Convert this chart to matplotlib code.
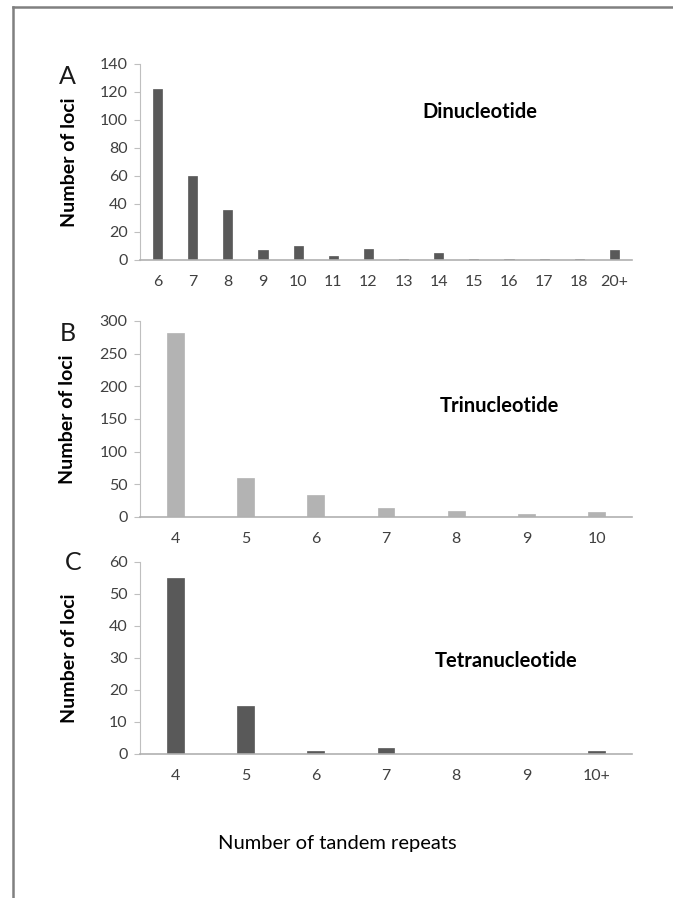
import matplotlib
matplotlib.use("Agg")
import matplotlib.pyplot as plt
from matplotlib.lines import Line2D

# data
di_labels = ["6", "7", "8", "9", "10", "11", "12", "13", "14", "15", "16", "17", "18", "20+"]
di_counts = [122, 60, 36, 7, 10, 3, 8, 1, 5, 1, 1, 1, 1, 7]

tri_labels = ["4", "5", "6", "7", "8", "9", "10"]
tri_counts = [282, 60, 33, 13, 9, 5, 7]

tetra_labels = ["4", "5", "6", "7", "8", "9", "10+"]
tetra_counts = [55, 15, 1, 2, 0, 0, 1]

plt.rcParams["font.family"] = ["Lato", "DejaVu Sans"]

fig = plt.figure(figsize=(6.73, 8.98), dpi=100)

dark = "#595959"
light = "#b3b3b3"
tick_col = "#404040"


def panel(rect, labels, counts, color, width, ymax, ystep, name, name_xy, letter, letter_xy, ylab_x):
    ax = fig.add_axes(rect)
    x = range(len(labels))
    ax.bar(x, counts, width=width, color=color, edgecolor=color, linewidth=0.5)
    ax.set_xlim(-0.5, len(labels) - 0.5)
    ax.set_ylim(0, ymax)
    ax.set_yticks(range(0, ymax + 1, ystep))
    ax.set_xticks(list(x))
    ax.set_xticklabels(labels)
    ax.tick_params(axis="x", length=0, pad=11, labelsize=11.5, labelcolor=tick_col)
    ax.tick_params(axis="y", length=4, width=0.8, color="#bfbfbf", pad=5,
                   labelsize=11.5, labelcolor=tick_col)
    for s in ["top", "right"]:
        ax.spines[s].set_visible(False)
    ax.spines["left"].set_color("#bfbfbf")
    ax.spines["bottom"].set_color("#b0b0b0")
    ax.spines["left"].set_linewidth(0.8)
    ax.spines["bottom"].set_linewidth(1.2)
    ax.set_ylabel("Number of loci", fontsize=14, fontweight="bold", color="black")
    ax.yaxis.set_label_coords(ylab_x, 0.5)
    ax.text(name_xy[0], name_xy[1], name, transform=ax.transAxes, ha="center",
            va="center", fontsize=14.5, fontweight="bold")
    fig.text(letter_xy[0], letter_xy[1], letter, ha="center", va="center", fontsize=18,
             color="#1a1a1a")
    return ax


panel([0.208, 0.7105, 0.731, 0.2183], di_labels, di_counts, dark, 0.26, 140, 20,
      "Dinucleotide", (0.69, 0.755), "A", (67 / 673, 1 - 76 / 898), -0.125)
panel([0.208, 0.4243, 0.731, 0.2183], tri_labels, tri_counts, light, 0.24, 300, 50,
      "Trinucleotide", (0.73, 0.566), "B", (68 / 673, 1 - 333 / 898), -0.13)
panel([0.208, 0.1604, 0.731, 0.2138], tetra_labels, tetra_counts, dark, 0.24, 60, 10,
      "Tetranucleotide", (0.745, 0.484), "C", (73 / 673, 1 - 562 / 898), -0.125)

fig.text(337 / 673, 1 - 843 / 898, "Number of tandem repeats", ha="center", va="center",
         fontsize=14.5)

# frame lines (top and left) of the original figure
fig.add_artist(Line2D([12.5 / 673, 1.0], [1 - 7 / 898, 1 - 7 / 898],
                      transform=fig.transFigure, color="#808080", linewidth=1.8))
fig.add_artist(Line2D([12.5 / 673, 12.5 / 673], [0.0, 1 - 7 / 898],
                      transform=fig.transFigure, color="#808080", linewidth=1.8))

fig.savefig("out.png", dpi=100)
